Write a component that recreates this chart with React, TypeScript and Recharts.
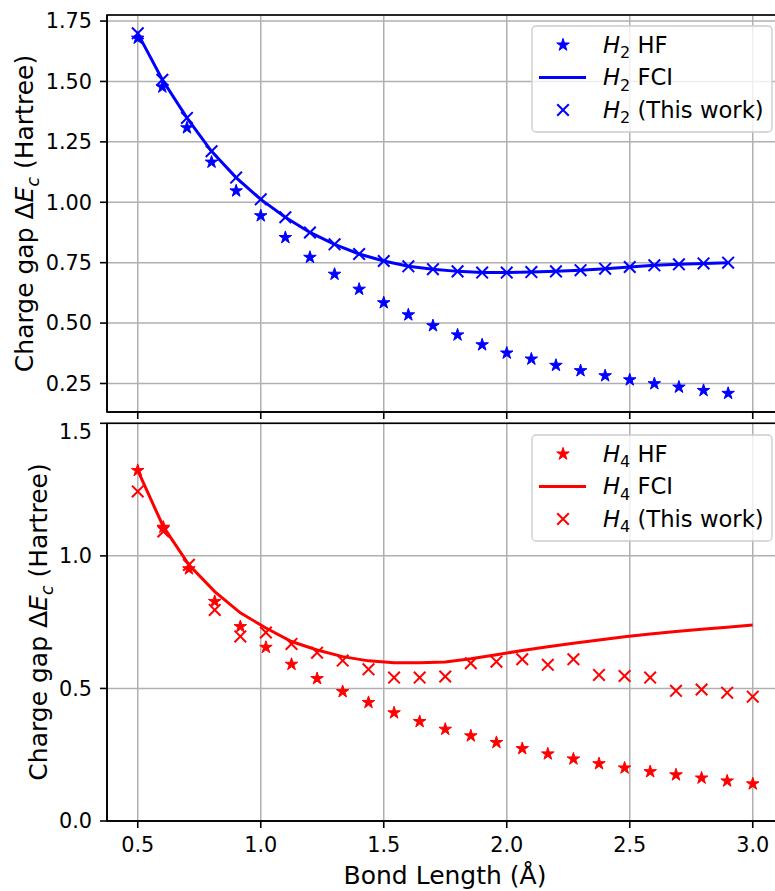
import React from "react";
import { ComposedChart, Line, Scatter, XAxis, YAxis, CartesianGrid } from "recharts";

// H2 chain, bond length 0.5 .. 2.9 Å
const h2Bond = [0.5, 0.6, 0.7, 0.8, 0.9, 1.0, 1.1, 1.2, 1.3, 1.4, 1.5, 1.6, 1.7, 1.8, 1.9, 2.0, 2.1, 2.2, 2.3, 2.4, 2.5, 2.6, 2.7, 2.8, 2.9];
const h2Hf = [1.679, 1.477, 1.308, 1.166, 1.047, 0.944, 0.854, 0.772, 0.702, 0.64, 0.584, 0.534, 0.489, 0.451, 0.41, 0.376, 0.351, 0.325, 0.303, 0.282, 0.265, 0.249, 0.235, 0.221, 0.209];
const h2Fci = [1.699, 1.507, 1.349, 1.211, 1.102, 1.012, 0.938, 0.875, 0.826, 0.786, 0.757, 0.735, 0.723, 0.714, 0.709, 0.709, 0.711, 0.714, 0.719, 0.725, 0.732, 0.739, 0.743, 0.747, 0.75];
const h2Ours = [1.699, 1.507, 1.349, 1.211, 1.102, 1.012, 0.938, 0.875, 0.826, 0.786, 0.757, 0.735, 0.723, 0.714, 0.709, 0.709, 0.711, 0.714, 0.719, 0.725, 0.732, 0.739, 0.743, 0.747, 0.75];

// H4 chain, bond length 0.5 .. 3.0 Å
const h4Bond = [0.5, 0.604, 0.708, 0.813, 0.917, 1.021, 1.125, 1.229, 1.333, 1.438, 1.542, 1.646, 1.75, 1.854, 1.958, 2.063, 2.167, 2.271, 2.375, 2.479, 2.583, 2.688, 2.792, 2.896, 3.0];
const h4Hf = [1.322, 1.108, 0.951, 0.828, 0.733, 0.655, 0.591, 0.537, 0.488, 0.447, 0.408, 0.375, 0.346, 0.321, 0.296, 0.273, 0.253, 0.234, 0.216, 0.2, 0.186, 0.174, 0.162, 0.151, 0.14];
const h4Fci = [1.322, 1.11, 0.966, 0.865, 0.785, 0.728, 0.677, 0.645, 0.62, 0.604, 0.597, 0.597, 0.6, 0.612, 0.627, 0.643, 0.657, 0.67, 0.683, 0.695, 0.705, 0.715, 0.723, 0.731, 0.739];
const h4Ours = [1.243, 1.092, 0.966, 0.796, 0.696, 0.711, 0.668, 0.635, 0.605, 0.572, 0.541, 0.541, 0.545, 0.595, 0.601, 0.61, 0.589, 0.61, 0.551, 0.547, 0.541, 0.491, 0.496, 0.484, 0.469];

const xTicks = [0.5, 1.0, 1.5, 2.0, 2.5, 3.0];
const h2Ticks = [0.25, 0.5, 0.75, 1.0, 1.25, 1.5, 1.75];
const h4Ticks = [0, 0.5, 1.0, 1.5];

const FONT = "'DejaVu Sans', sans-serif";
const FS = 20.8; // tick labels
const LFS = 22.7; // legend
const AFS = 25; // axis titles
const BLUE = "#0000ff";
const RED = "#ff0000";

const pts = (xs: number[], ys: number[]) => xs.map((x, i) => ({ x, y: ys[i] }));

function Star({ cx, cy, color }: { cx?: number; cy?: number; color: string }) {
  if (cx == null || cy == null) return null;
  const R = 6.6;
  const r = R * 0.382;
  const p: string[] = [];
  for (let i = 0; i < 10; i++) {
    const a = -Math.PI / 2 + (i * Math.PI) / 5;
    const rad = i % 2 ? r : R;
    p.push(`${cx + rad * Math.cos(a)},${cy + rad * Math.sin(a)}`);
  }
  return <polygon points={p.join(" ")} fill={color} stroke={color} strokeWidth={1} />;
}

function Cross({ cx, cy, color }: { cx?: number; cy?: number; color: string }) {
  if (cx == null || cy == null) return null;
  const s = 5.8;
  return (
    <g stroke={color} strokeWidth={2}>
      <line x1={cx - s} y1={cy - s} x2={cx + s} y2={cy + s} />
      <line x1={cx - s} y1={cy + s} x2={cx + s} y2={cy - s} />
    </g>
  );
}

type PanelProps = {
  top: number;
  height: number;
  marginTop: number;
  xAxisHeight: number;
  showXLabels: boolean;
  yDomain: [number, number];
  yTicks: number[];
  yFmt: (v: number) => string;
  hf: { x: number; y: number }[];
  fci: { x: number; y: number }[];
  ours: { x: number; y: number }[];
  color: string;
};

function Panel(p: PanelProps) {
  const tickStyle = { fill: "#000", fontSize: FS, fontFamily: FONT };
  return (
    <div style={{ position: "absolute", left: 0, top: p.top }}>
      <ComposedChart
        width={800}
        height={p.height}
        margin={{ top: p.marginTop, right: 16.5, left: 0, bottom: 0 }}
      >
        <CartesianGrid stroke="#b0b0b0" strokeWidth={1.5} />
        <XAxis
          type="number"
          dataKey="x"
          domain={[0.375, 3.125]}
          ticks={xTicks}
          allowDataOverflow
          height={p.xAxisHeight}
          tickSize={7}
          tickMargin={9}
          axisLine={{ stroke: "#000", strokeWidth: 1.6 }}
          tickLine={{ stroke: "#000", strokeWidth: 1.6 }}
          tick={tickStyle}
          tickFormatter={(v: number) => (p.showXLabels ? v.toFixed(1) : "")}
        />
        <YAxis
          type="number"
          dataKey="y"
          domain={p.yDomain}
          ticks={p.yTicks}
          allowDataOverflow
          width={107}
          tickSize={7}
          tickMargin={8}
          axisLine={{ stroke: "#000", strokeWidth: 1.6 }}
          tickLine={{ stroke: "#000", strokeWidth: 1.6 }}
          tick={tickStyle}
          tickFormatter={p.yFmt}
        />
        <Line
          data={p.fci}
          dataKey="y"
          stroke={p.color}
          strokeWidth={3}
          dot={false}
          activeDot={false}
          type="linear"
          isAnimationActive={false}
        />
        <Scatter
          data={p.hf}
          dataKey="y"
          isAnimationActive={false}
          shape={(s: any) => <Star cx={s.cx} cy={s.cy} color={p.color} />}
        />
        <Scatter
          data={p.ours}
          dataKey="y"
          isAnimationActive={false}
          shape={(s: any) => <Cross cx={s.cx} cy={s.cy} color={p.color} />}
        />
      </ComposedChart>
    </div>
  );
}

function LegendBox({ top, color, sub }: { top: number; color: string; sub: string }) {
  const rows = [top + 19, top + 51.5, top + 84];
  const label = (y: number, rest: string) => (
    <text x={603} y={y + 7.5} fontSize={LFS} fontFamily={FONT} fill="#000">
      <tspan fontStyle="italic">H</tspan>
      <tspan fontSize={16} dy={5.5}>{sub}</tspan>
      <tspan dy={-5.5}>{" " + rest}</tspan>
    </text>
  );
  return (
    <g>
      <rect x={532} y={top} width={240} height={106} rx={4} fill="#fff" fillOpacity={0.8} stroke="#cccccc" strokeWidth={1.3} />
      <Star cx={563} cy={rows[0]} color={color} />
      {label(rows[0], "HF")}
      <line x1={539} x2={586} y1={rows[1]} y2={rows[1]} stroke={color} strokeWidth={3} />
      {label(rows[1], "FCI")}
      <Cross cx={563} cy={rows[2]} color={color} />
      {label(rows[2], "(This work)")}
    </g>
  );
}

function YTitle({ x, cy }: { x: number; cy: number }) {
  return (
    <text
      x={x}
      y={cy}
      transform={`rotate(-90, ${x}, ${cy})`}
      textAnchor="middle"
      fontSize={AFS}
      fontFamily={FONT}
      fill="#000"
    >
      Charge gap Δ<tspan fontStyle="italic">E</tspan>
      <tspan fontStyle="italic" fontSize={17.5} dy={6}>c</tspan>
      <tspan dy={-6}> (Hartree)</tspan>
    </text>
  );
}

export default function App() {
  return (
    <div style={{ position: "absolute", left: 0, top: 0, width: 775, height: 891, overflow: "hidden", background: "#fff" }}>
      <Panel
        top={0}
        height={420}
        marginTop={15}
        xAxisHeight={8}
        showXLabels={false}
        yDomain={[0.132, 1.775]}
        yTicks={h2Ticks}
        yFmt={(v) => v.toFixed(2)}
        hf={pts(h2Bond, h2Hf)}
        fci={pts(h2Bond, h2Fci)}
        ours={pts(h2Bond, h2Ours)}
        color={BLUE}
      />
      <Panel
        top={420}
        height={471}
        marginTop={3.3}
        xAxisHeight={70}
        showXLabels={true}
        yDomain={[0, 1.5]}
        yTicks={h4Ticks}
        yFmt={(v) => v.toFixed(1)}
        hf={pts(h4Bond, h4Hf)}
        fci={pts(h4Bond, h4Fci)}
        ours={pts(h4Bond, h4Ours)}
        color={RED}
      />
      <svg width={775} height={891} style={{ position: "absolute", left: 0, top: 0, pointerEvents: "none" }}>
        <rect x={107} y={15} width={676.5} height={397} fill="none" stroke="#000" strokeWidth={1.6} />
        <rect x={107} y={423.3} width={676.5} height={397.7} fill="none" stroke="#000" strokeWidth={1.6} />
        <LegendBox top={26} color={BLUE} sub="2" />
        <LegendBox top={435} color={RED} sub="4" />
        <YTitle x={33} cy={213.5} />
        <YTitle x={47} cy={622} />
        <text x={445} y={884} textAnchor="middle" fontSize={AFS} fontFamily={FONT} fill="#000">
          Bond Length (Å)
        </text>
      </svg>
    </div>
  );
}
